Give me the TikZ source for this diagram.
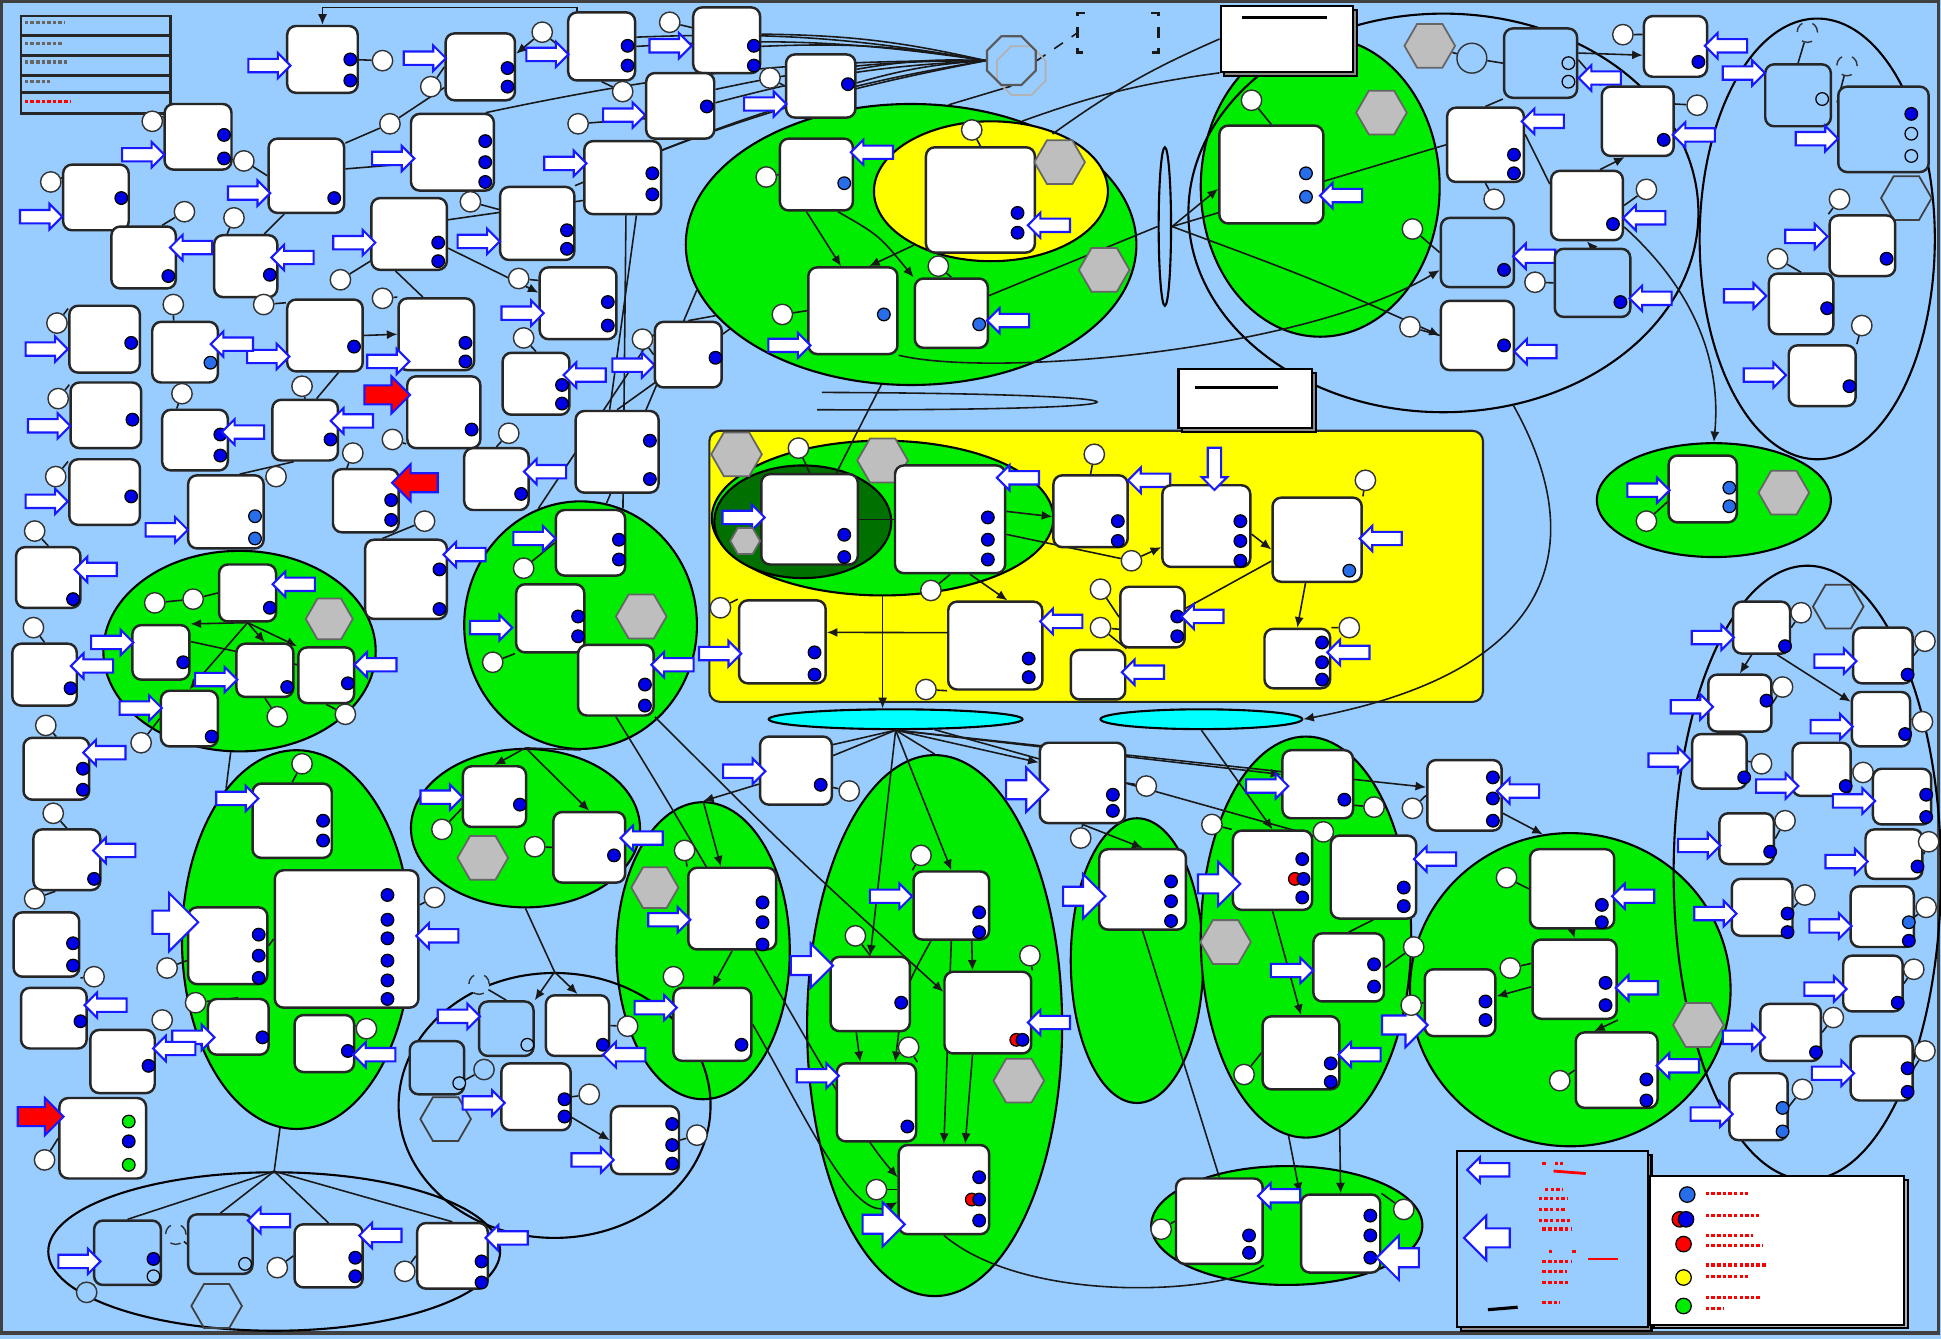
\documentclass[tikz,border=0pt]{standalone}
\usetikzlibrary{arrows.meta,shapes.geometric,shapes.arrows,shadows}
\definecolor{bgblue}{RGB}{153,204,255}
\definecolor{grpgreen}{RGB}{0,236,0}
\definecolor{grpyellow}{RGB}{255,255,0}
\definecolor{darkgrp}{RGB}{0,112,0}
\definecolor{portblue}{RGB}{0,0,230}
\definecolor{lportblue}{RGB}{40,110,235}
\definecolor{arrblue}{RGB}{25,25,255}
\definecolor{hexgray}{RGB}{190,190,190}
\definecolor{cyangrp}{RGB}{0,255,255}
\pgfdeclarelayer{back}
\pgfdeclarelayer{wires}
\pgfsetlayers{back,wires,main}
\begin{document}
\begin{tikzpicture}[
    x=0.3522pt, y=-0.3522pt,
    wh/.style 2 args={minimum width=#1*0.3522pt, minimum height=#2*0.3522pt},
    box/.style={draw=black!85, line width=0.7pt, fill=white, rounded corners=2.5pt, inner sep=0pt},
    bluebox/.style={box, fill=bgblue},
    port/.style={circle, draw=black, line width=0.35pt, fill=portblue, inner sep=0pt, minimum size=3.6pt},
    lport/.style={port, fill=lportblue},
    oport/.style={port, fill=bgblue},
    gport/.style={port, fill=grpgreen},
    rport/.style={port, fill=red},
    yport/.style={port, fill=grpyellow},
    tag/.style={circle, draw=black!80, line width=0.4pt, fill=white, inner sep=0pt, minimum size=5.8pt},
    dtag/.style={tag, dashed, fill=bgblue},
    otag/.style={tag, fill=bgblue},
    rarr/.style={single arrow, draw=arrblue, line width=0.6pt, fill=white, inner xsep=0pt, inner ysep=1.6pt, minimum height=12pt, single arrow head extend=1.7pt},
    larr/.style={rarr, shape border rotate=180},
    darr/.style={rarr, shape border rotate=270, inner xsep=1.6pt, inner ysep=0pt},
    bigr/.style={rarr, inner ysep=2.4pt, single arrow head extend=3.6pt},
    bigl/.style={bigr, shape border rotate=180},
    redr/.style={rarr, fill=red, inner ysep=2.4pt, single arrow head extend=2.6pt, minimum height=13pt},
    redl/.style={redr, shape border rotate=180},
    hexa/.style={regular polygon, regular polygon sides=6, draw=black!60, line width=0.5pt, fill=hexgray, inner sep=0pt, minimum size=14.4pt},
    ohex/.style={hexa, fill=none, draw=black!75},
    grp/.style={ellipse, draw=black, line width=0.6pt, fill=grpgreen, inner sep=0pt},
    ogrp/.style={grp, fill=none},
    ygrp/.style={grp, fill=grpyellow},
    dgrp/.style={grp, fill=darkgrp},
    note/.style={draw=black, line width=0.6pt, fill=white, inner sep=0pt, copy shadow={shadow xshift=1.1pt, shadow yshift=-1.1pt, fill=black!45, draw=black}},
    scrawl/.style={line width=1pt, dash pattern=on 1pt off 0.6pt},
    wire/.style={draw=black!90, line width=0.45pt},
    flow/.style={wire, -{Latex[length=3pt,width=2.6pt]}}
  ]
  \useasboundingbox (0,0) rectangle (1568,1082);
  \begin{pgfonlayer}{back}
    \fill[bgblue] (0,0) rectangle (1568,1082);
    \draw[line width=1pt, black!75] (1,1) rectangle (1566,1077);
    \node[grp, wh={364}{227}] (e3) at (736,197.5) {};
    \node[ygrp, wh={189}{113}] (e3y) at (800.5,154.5) {};
    \node[grp, wh={193}{242}] (e4) at (1066.5,151) {};
    \node[grp, wh={189}{92}] (e7) at (1384.5,404) {};
    \node[grp, wh={220}{162}] (e1) at (193.5,526) {};
    \node[grp, wh={188}{200}] (e2) at (469,505) {};
    \node[grp, wh={185}{306}] (e16) at (239.5,759) {};
    \node[grp, wh={185}{128}] (e15) at (424.5,669) {};
    \node[grp, wh={140}{240}] (e14) at (568,768) {};
    \node[grp, wh={206}{437}] (e13) at (755,828.5) {};
    \node[grp, wh={107}{230}] (e12) at (918.5,776) {};
    \node[grp, wh={170}{324}] (e10) at (1055,757) {};
    \node[grp, wh={219}{96}] (e11) at (1039.5,990) {};
    \node[grp, wh={259}{253}] (e9) at (1268.5,799.5) {};
    \node[box, fill=grpyellow, rounded corners=3pt, line width=0.6pt, wh={625}{219}] (yard) at (885.5,457.5) {};
    \node[grp, wh={276}{125}] (gin) at (713,418.5) {};
    \node[dgrp, wh={143}{91}] (dg) at (648.5,421.5) {};
    \node[grp, fill=cyangrp, wh={205}{16}] (cyan1) at (723.5,581) {};
    \node[grp, fill=cyangrp, wh={163}{16}] (cyan2) at (970.5,581) {};
    \node[ogrp, wh={412}{322}] (e5) at (1166,172) {};
    \node[ogrp, wh={190}{356}] (e6) at (1468,193) {};
    \node[ogrp, wh={216}{496}] (e8) at (1460,705) {};
    \node[ogrp, wh={252}{214}] (e18) at (448,893) {};
    \node[ogrp, wh={365}{128}] (e17) at (221.5,1011) {};
    \node[ogrp, wh={10}{128}] (slim) at (941,183) {};
  \end{pgfonlayer}

  \node[draw=black!85, line width=0.8pt, inner sep=0pt, wh={121}{79}] (legtab) at (77.5,52.5) {};
  \foreach \yy in {29,45,61,75} \draw[line width=0.8pt, black!85] (legtab.west |- 0,\yy) -- (legtab.east |- 0,\yy);
  \foreach \yy/\ww in {18/52,35/50,50/54,66/40} \draw[scrawl, black!60] (20,\yy) -- (\ww,\yy);
  \draw[scrawl, red] (20,82) -- (57,82);

  \node[box, wh={57}{54}] (b1) at (260.5,48) {};
  \node[port] (b1p1) at (283,48) {};
  \node[port] (b1p2) at (283,65) {};
  \node[rarr] (b1a) at (215,53) {};
  \node[tag] (b1t) at (309,49) {};
  \node[box, wh={56}{54}] (b2) at (388,54) {};
  \node[port] (b2p1) at (410,55) {};
  \node[port] (b2p2) at (410,70) {};
  \node[rarr] (b2a) at (340.5,47) {};
  \node[tag] (b2t) at (438,26) {};
  \node[tag] (b2u) at (348,70) {};
  \node[box, wh={54}{55}] (b3) at (486,37.5) {};
  \node[port] (b3p1) at (507,37) {};
  \node[port] (b3p2) at (507,53) {};
  \node[rarr] (b3a) at (439.5,44) {};
  \node[tag] (b3t) at (503,74) {};
  \node[box, wh={54}{53}] (b4) at (160,110.5) {};
  \node[port] (b4p1) at (181,109) {};
  \node[port] (b4p2) at (181,128) {};
  \node[rarr] (b4a) at (113,125) {};
  \node[tag] (b4t) at (123,98) {};
  \node[tag] (b4u) at (197,130) {};
  \node[box, wh={61}{60}] (b5) at (247.5,142) {};
  \node[port] (b5p1) at (270,160) {};
  \node[rarr] (b5a) at (198.5,156) {};
  \node[box, wh={67}{62}] (b6) at (365.5,123) {};
  \node[port] (b6p1) at (392,114) {};
  \node[port] (b6p2) at (392,131) {};
  \node[port] (b6p3) at (392,147) {};
  \node[rarr] (b6a) at (315,128) {};
  \node[tag] (b6t) at (315,100) {};
  \node[box, wh={53}{53}] (b7) at (77.5,159.5) {};
  \node[port] (b7p1) at (98,160) {};
  \node[rarr] (b7a) at (30.5,175) {};
  \node[tag] (b7t) at (41,147) {};
  \node[box, wh={52}{50}] (b8) at (116,208) {};
  \node[port] (b8p1) at (136,223) {};
  \node[larr] (b8a) at (157,200) {};
  \node[tag] (b8t) at (149,171) {};
  \node[box, wh={51}{50}] (b9) at (198.5,215) {};
  \node[port] (b9p1) at (218,222) {};
  \node[larr] (b9a) at (239,208) {};
  \node[tag] (b9t) at (189,176) {};
  \node[box, wh={61}{58}] (b10) at (330.5,189) {};
  \node[port] (b10p1) at (354,196) {};
  \node[port] (b10p2) at (354,211) {};
  \node[rarr] (b10a) at (283.5,196) {};
  \node[tag] (b10t) at (275,226) {};
  \node[box, wh={60}{59}] (b11) at (434,180.5) {};
  \node[port] (b11p1) at (458,186) {};
  \node[port] (b11p2) at (458,201) {};
  \node[rarr] (b11a) at (384,195) {};
  \node[tag] (b11t) at (380,163) {};
  \node[box, wh={62}{59}] (b12) at (503,143.5) {};
  \node[port] (b12p1) at (527,140) {};
  \node[port] (b12p2) at (527,157) {};
  \node[rarr] (b12a) at (454,132) {};
  \node[tag] (c3t) at (467,100) {};
  \node[rarr] (c3a) at (501.5,93) {};
  \node[box, wh={61}{58}] (b13) at (262.5,271) {};
  \node[port] (b13p1) at (286,280) {};
  \node[rarr] (b13a) at (214,288) {};
  \node[tag] (b13t) at (213,246) {};
  \node[box, wh={61}{58}] (b14) at (352.5,270) {};
  \node[port] (b14p1) at (376,277) {};
  \node[port] (b14p2) at (376,292) {};
  \node[rarr] (b14a) at (311,292) {};
  \node[tag] (b14t) at (309,241) {};
  \node[box, wh={57}{54}] (b15) at (84.5,274) {};
  \node[port] (b15p1) at (106,277) {};
  \node[rarr] (b15a) at (35,282) {};
  \node[tag] (b15t) at (46,261) {};
  \node[box, wh={53}{49}] (b16) at (149.5,284.5) {};
  \node[lport] (b16p1) at (170,293) {};
  \node[larr] (b16a) at (190,278) {};
  \node[tag] (b16t) at (140,246) {};
  \node[box, wh={62}{58}] (b17) at (467,245) {};
  \node[port] (b17p1) at (491,244) {};
  \node[port] (b17p2) at (491,263) {};
  \node[rarr] (b17a) at (419.5,253) {};
  \node[tag] (b17t) at (419,225) {};
  \node[box, wh={54}{50}] (b18) at (433,310) {};
  \node[port] (b18p1) at (454,311) {};
  \node[port] (b18p2) at (454,326) {};
  \node[larr] (b18a) at (475,303) {};
  \node[tag] (b18t) at (423,273) {};
  \node[rarr] (c8a) at (509,295) {};
  \node[box, wh={67}{66}] (b19) at (498.5,365) {};
  \node[port] (b19p1) at (525,356) {};
  \node[port] (b19p2) at (525,387) {};
  \node[box, wh={59}{58}] (b20) at (358.5,333) {};
  \node[port] (b20p1) at (381,347) {};
  \node[redr] (b20a) at (309,319) {};
  \node[tag] (b20t) at (317,355) {};
  \node[box, wh={53}{49}] (b21) at (246.5,347.5) {};
  \node[port] (b21p1) at (267,355) {};
  \node[larr] (b21a) at (287,340) {};
  \node[tag] (b21t) at (244,312) {};
  \node[box, wh={53}{49}] (b22) at (157.5,355.5) {};
  \node[port] (b22p1) at (178,351) {};
  \node[port] (b22p2) at (178,368) {};
  \node[larr] (b22a) at (199,349) {};
  \node[tag] (b22t) at (147,318) {};
  \node[box, wh={57}{53}] (b23) at (85.5,335.5) {};
  \node[port] (b23p1) at (107,339) {};
  \node[rarr] (b23a) at (37,344) {};
  \node[tag] (b23t) at (47,322) {};
  \node[box, wh={57}{53}] (b24) at (84.5,397.5) {};
  \node[port] (b24p1) at (106,401) {};
  \node[rarr] (b24a) at (35,405) {};
  \node[tag] (b24t) at (45,385) {};
  \node[box, wh={61}{59}] (b25) at (182.5,413.5) {};
  \node[lport] (b25p1) at (206,417) {};
  \node[lport] (b25p2) at (206,435) {};
  \node[rarr] (b25a) at (132,428) {};
  \node[tag] (b25t) at (223,385) {};
  \node[box, wh={53}{51}] (b26) at (295.5,404.5) {};
  \node[port] (b26p1) at (316,404) {};
  \node[port] (b26p2) at (316,420) {};
  \node[redl] (b26a) at (339,390) {};
  \node[tag] (b26t) at (285,366) {};
  \node[box, wh={52}{50}] (b27) at (401,387) {};
  \node[port] (b27p1) at (421,399) {};
  \node[larr] (b27a) at (443,381) {};
  \node[tag] (b27t) at (411,350) {};
  \node[box, wh={66}{64}] (b28) at (328,468) {};
  \node[port] (b28p1) at (355,460) {};
  \node[port] (b28p2) at (355,492) {};
  \node[larr] (b28a) at (378,448) {};
  \node[tag] (b28t) at (343,421) {};
  \node[box, wh={52}{49}] (b29) at (39,466.5) {};
  \node[port] (b29p1) at (59,484) {};
  \node[larr] (b29a) at (80,460) {};
  \node[tag] (b29t) at (28,429) {};
  \node[box, wh={52}{50}] (b30) at (36,545) {};
  \node[port] (b30p1) at (57,556) {};
  \node[larr] (b30a) at (77,538) {};
  \node[tag] (b30t) at (27,507) {};

  \node[box, wh={46}{46}] (e1a) at (200,479) {};
  \node[port] (e1ap1) at (218,491) {};
  \node[larr] (e1aa) at (240,472) {};
  \node[tag] (e1at) at (125,487) {};
  \node[tag] (e1au) at (156,484) {};
  \node[hexa, minimum size=13.4pt] (e1h) at (266,500) {};
  \node[box, wh={46}{44}] (e1b) at (130,527) {};
  \node[port] (e1bp1) at (148,535) {};
  \node[rarr] (e1ba) at (88,519) {};
  \node[box, wh={46}{43}] (e1c) at (214,541.5) {};
  \node[port] (e1cp1) at (232,555) {};
  \node[rarr] (e1ca) at (172,549) {};
  \node[tag] (e1ct) at (224,579) {};
  \node[box, wh={45}{45}] (e1d) at (263.5,545.5) {};
  \node[port] (e1dp1) at (281,552) {};
  \node[larr] (e1da) at (306,537) {};
  \node[tag] (e1dt) at (279,577) {};
  \node[box, wh={46}{45}] (e1e) at (153,580.5) {};
  \node[port] (e1ep1) at (171,595) {};
  \node[rarr] (e1ea) at (111,572) {};
  \node[tag] (e1et) at (114,600) {};

  \node[box, wh={56}{53}] (e2a) at (477,438.5) {};
  \node[port] (e2ap1) at (500,436) {};
  \node[port] (e2ap2) at (500,452) {};
  \node[rarr] (e2aa) at (429,435) {};
  \node[tag] (e2at) at (423,459) {};
  \node[box, wh={55}{55}] (e2b) at (444.5,499.5) {};
  \node[port] (e2bp1) at (467,498) {};
  \node[port] (e2bp2) at (467,514) {};
  \node[rarr] (e2ba) at (394,507) {};
  \node[tag] (e2bt) at (398,535) {};
  \node[hexa] (e2h) at (518,498) {};
  \node[box, wh={61}{57}] (e2c) at (497.5,549.5) {};
  \node[port] (e2cp1) at (521,553) {};
  \node[port] (e2cp2) at (521,570) {};
  \node[larr] (e2ca) at (546,537) {};

  \node[box, wh={53}{50}] (s1) at (45.5,621) {};
  \node[port] (s1p1) at (67,621) {};
  \node[port] (s1p2) at (67,638) {};
  \node[larr] (s1a) at (87,608) {};
  \node[tag] (s1t) at (37,586) {};
  \node[box, wh={54}{49}] (s2) at (54,694.5) {};
  \node[port] (s2p1) at (76,710) {};
  \node[larr] (s2a) at (95,687) {};
  \node[tag] (s2t) at (43,657) {};
  \node[tag] (s2u) at (28,726) {};
  \node[box, wh={53}{52}] (s3) at (37.5,763) {};
  \node[port] (s3p1) at (59,762) {};
  \node[port] (s3p2) at (59,780) {};
  \node[tag] (s3t) at (76,789) {};
  \node[box, wh={53}{49}] (s4) at (43.5,822.5) {};
  \node[port] (s4p1) at (65,825) {};
  \node[larr] (s4a) at (88,812) {};
  \node[box, wh={52}{51}] (s5) at (99,857.5) {};
  \node[port] (s5p1) at (120,861) {};
  \node[tag] (s5t) at (131,824) {};
  \node[box, wh={70}{65}] (s6) at (83,919.5) {};
  \node[gport] (s6p1) at (104,906) {};
  \node[port] (s6p2) at (104,922) {};
  \node[gport] (s6p3) at (104,941) {};
  \node[redr] (s6a) at (29,902) {};
  \node[tag] (s6t) at (36,937) {};

  \node[box, wh={64}{60}] (r1) at (236,663) {};
  \node[port] (r1p1) at (261,663) {};
  \node[port] (r1p2) at (261,679) {};
  \node[rarr] (r1a) at (189,645) {};
  \node[tag] (r1t) at (244,617) {};
  \node[box, wh={116}{111}] (r2) at (280,758.5) {};
  \node[port] (r2p1) at (313,723) {};
  \node[port] (r2p2) at (313,743) {};
  \node[port] (r2p3) at (313,758) {};
  \node[port] (r2p4) at (313,776) {};
  \node[port] (r2p5) at (313,792) {};
  \node[port] (r2p6) at (313,807) {};
  \node[larr] (r2a) at (356,756) {};
  \node[tag] (r2t) at (351,725) {};
  \node[box, wh={64}{62}] (r3) at (184,764) {};
  \node[port] (r3p1) at (209,755) {};
  \node[port] (r3p2) at (209,772) {};
  \node[port] (r3p3) at (209,790) {};
  \node[bigr, minimum height=13pt, inner ysep=3pt, single arrow head extend=5pt] (r3a) at (137,745) {};
  \node[tag] (r3t) at (135,782) {};
  \node[box, wh={49}{45}] (r4) at (192.5,829.5) {};
  \node[port] (r4p1) at (212,838) {};
  \node[rarr] (r4a) at (153.5,838) {};
  \node[larr] (r4b) at (143.5,847) {};
  \node[tag] (r4t) at (158,810) {};
  \node[box, wh={48}{46}] (r5) at (262,843) {};
  \node[port] (r5p1) at (281,849) {};
  \node[larr] (r5a) at (305,852) {};
  \node[tag] (r5t) at (296,831) {};

  \node[box, wh={51}{49}] (q1) at (399.5,643.5) {};
  \node[port] (q1p1) at (420,650) {};
  \node[rarr] (q1a) at (354,644) {};
  \node[tag] (q1t) at (357,670) {};
  \node[hexa] (q1h) at (390,693) {};
  \node[box, wh={58}{57}] (q2) at (476,684.5) {};
  \node[port] (q2p1) at (496,691) {};
  \node[larr] (q2a) at (521,677) {};
  \node[tag] (q2t) at (432,684) {};

  \node[bluebox, wh={44}{44}] (u1) at (409,831) {};
  \node[oport] (u1p1) at (426,844) {};
  \node[rarr] (u1a) at (368,821) {};
  \node[dtag] (u1t) at (387,795) {};
  \node[box, wh={51}{49}] (u2) at (466.5,828.5) {};
  \node[port] (u2p1) at (487,844) {};
  \node[larr] (u2a) at (507,852) {};
  \node[tag] (u2t) at (507,829) {};
  \node[bluebox, wh={44}{43}] (u3) at (353,862.5) {};
  \node[oport] (u3p1) at (371,875) {};
  \node[otag] (u3t) at (391,864) {};
  \node[ohex] (u3h) at (360,904) {};
  \node[box, wh={56}{54}] (u4) at (433,886) {};
  \node[port] (u4p1) at (456,888) {};
  \node[port] (u4p2) at (456,902) {};
  \node[rarr] (u4a) at (388,891) {};
  \node[tag] (u4t) at (476,884) {};
  \node[box, wh={55}{55}] (u5) at (521,921) {};
  \node[port] (u5p1) at (543,908) {};
  \node[port] (u5p2) at (543,925) {};
  \node[port] (u5p3) at (543,940) {};
  \node[rarr] (u5a) at (476,937) {};
  \node[tag] (u5t) at (563,917) {};

  \node[bluebox, wh={54}{52}] (t1) at (103,1012) {};
  \node[port] (t1p1) at (124,1017) {};
  \node[oport] (t1p2) at (124,1031) {};
  \node[rarr] (t1a) at (61.5,1019) {};
  \node[otag] (t1t) at (70,1044) {};
  \node[bluebox, wh={52}{48}] (t2) at (178,1005) {};
  \node[oport] (t2p1) at (198,1021) {};
  \node[larr] (t2a) at (220,986) {};
  \node[dtag] (t2t) at (142,997) {};
  \node[box, wh={55}{51}] (t3) at (265.5,1014.5) {};
  \node[port] (t3p1) at (287,1016) {};
  \node[port] (t3p2) at (287,1031) {};
  \node[larr] (t3a) at (310,998) {};
  \node[tag] (t3t) at (224,1024) {};
  \node[box, wh={57}{53}] (t4) at (365.5,1014.5) {};
  \node[port] (t4p1) at (389,1019) {};
  \node[port] (t4p2) at (389,1036) {};
  \node[larr] (t4a) at (412,1000) {};
  \node[tag] (t4t) at (327,1027) {};
  \node[ohex] (t4h) at (175,1055) {};

  \node[box, wh={54}{53}] (c1) at (587,32.5) {};
  \node[port] (c1p1) at (609,37) {};
  \node[port] (c1p2) at (609,53) {};
  \node[rarr] (c1a) at (539,37) {};
  \node[tag] (c1t) at (541,18) {};
  \node[box, wh={56}{51}] (c2) at (663,69.5) {};
  \node[port] (c2p1) at (685,68) {};
  \node[rarr] (c2a) at (615.5,84) {};
  \node[tag] (c2t) at (622,63) {};
  \node[box, wh={55}{53}] (c3) at (549.5,85.5) {};
  \node[port] (c3p1) at (571,86) {};
  \node[regular polygon, regular polygon sides=8, draw=black!30, line width=0.5pt, inner sep=0pt, minimum size=15pt] (octs) at (825,57) {};
  \node[regular polygon, regular polygon sides=8, draw=black!65, line width=0.6pt, inner sep=0pt, minimum size=15pt] (oct) at (817,49) {};
  \node[inner sep=0pt, wh={64}{31}] (brk) at (903,26.5) {};
  \node[note, wh={107}{53}] (note1) at (1039.5,31.5) {};
  \node[note, wh={108}{48}] (note2) at (1006,322) {};

  \node[box, wh={59}{58}] (c4) at (659.5,141) {};
  \node[lport] (c4p1) at (682,148) {};
  \node[larr] (c4a) at (707,123) {};
  \node[tag] (c4t) at (619,143) {};
  \node[box, wh={88}{85}] (c5) at (792,161.5) {};
  \node[port] (c5p1) at (822,172) {};
  \node[port] (c5p2) at (822,188) {};
  \node[larr] (c5a) at (850,182) {};
  \node[tag] (c5t) at (785,105) {};
  \node[hexa] (c5h) at (856,131) {};
  \node[box, wh={72}{70}] (c6) at (689,251) {};
  \node[lport] (c6p1) at (714,254) {};
  \node[rarr] (c6a) at (635,279) {};
  \node[tag] (c6t) at (632,254) {};
  \node[box, wh={59}{56}] (c7) at (768.5,253) {};
  \node[lport] (c7p1) at (791,262) {};
  \node[larr] (c7a) at (817,259) {};
  \node[tag] (c7t) at (758,215) {};
  \node[hexa] (c7h) at (892,218) {};
  \node[box, wh={54}{53}] (c8) at (556,286.5) {};
  \node[port] (c8p1) at (578,289) {};
  \node[tag] (c8t) at (519,274) {};

  \node[box, wh={78}{73}] (d1) at (654,419.5) {};
  \node[port] (d1p1) at (682,432) {};
  \node[port] (d1p2) at (682,450) {};
  \node[rarr] (d1a) at (598,418) {};
  \node[hexa, minimum size=8.5pt] (d1h) at (602,437) {};
  \node[hexa] (d1g) at (595,367) {};
  \node[hexa] (d2h) at (713,372) {};
  \node[tag] (d1t) at (645,362) {};
  \node[box, wh={89}{87}] (d2) at (767.5,419.5) {};
  \node[port] (d2p1) at (798,418) {};
  \node[port] (d2p2) at (798,436) {};
  \node[port] (d2p3) at (798,452) {};
  \node[larr] (d2a) at (825,386) {};
  \node[tag] (d2t) at (752,477) {};
  \node[box, wh={60}{58}] (d3) at (881,413) {};
  \node[port] (d3p1) at (903,421) {};
  \node[port] (d3p2) at (903,437) {};
  \node[larr] (d3a) at (931,388) {};
  \node[tag] (d3t) at (884,367) {};
  \node[box, wh={71}{66}] (d4) at (974.5,425) {};
  \node[port] (d4p1) at (1002,421) {};
  \node[port] (d4p2) at (1002,437) {};
  \node[port] (d4p3) at (1002,453) {};
  \node[darr] (d4a) at (981,376) {};
  \node[tag] (d4t) at (914,453) {};
  \node[box, wh={72}{68}] (d5) at (1064,436) {};
  \node[lport] (d5p1) at (1090,461) {};
  \node[larr] (d5a) at (1118,435) {};
  \node[tag] (d5t) at (1103,388) {};
  \node[box, wh={70}{67}] (d6) at (632,518.5) {};
  \node[port] (d6p1) at (658,527) {};
  \node[port] (d6p2) at (658,545) {};
  \node[rarr] (d6a) at (579,528) {};
  \node[tag] (d6t) at (582,491) {};
  \node[box, wh={76}{71}] (d7) at (804,521.5) {};
  \node[port] (d7p1) at (831,532) {};
  \node[port] (d7p2) at (831,547) {};
  \node[larr] (d7a) at (860,502) {};
  \node[tag] (d7t) at (748,557) {};
  \node[box, wh={52}{49}] (d8) at (931,498.5) {};
  \node[port] (d8p1) at (951,498) {};
  \node[port] (d8p2) at (951,514) {};
  \node[larr] (d8a) at (974,498) {};
  \node[tag] (d8t) at (889,476) {};
  \node[tag] (d8u) at (889,507) {};
  \node[box, wh={44}{40}] (d9) at (887,545) {};
  \node[larr] (d9a) at (926,543) {};
  \node[box, wh={53}{48}] (d10) at (1048,532) {};
  \node[port] (d10p1) at (1068,519) {};
  \node[port] (d10p2) at (1068,535) {};
  \node[port] (d10p3) at (1068,549) {};
  \node[larr] (d10a) at (1092,527) {};
  \node[tag] (d10t) at (1090,507) {};

  \node[box, wh={84}{79}] (f1) at (1027,141) {};
  \node[lport] (f1p1) at (1055,140) {};
  \node[lport] (f1p2) at (1055,159) {};
  \node[larr] (f1a) at (1086,158) {};
  \node[tag] (f1t) at (1011,81) {};
  \node[hexa] (f1h) at (1116,91) {};
  \node[hexa] (hexb) at (1155,37) {};
  \node[otag, minimum size=8.5pt] (bigc) at (1189,47) {};
  \node[bluebox, wh={59}{56}] (f2) at (1244.5,51) {};
  \node[oport] (f2p1) at (1267,51) {};
  \node[oport] (f2p2) at (1267,66) {};
  \node[larr] (f2a) at (1295,63) {};
  \node[box, wh={51}{49}] (f3) at (1353.5,37.5) {};
  \node[port] (f3p1) at (1372,50) {};
  \node[larr] (f3a) at (1397,37) {};
  \node[tag] (f3t) at (1311,28) {};
  \node[box, wh={62}{60}] (f4) at (1200,117) {};
  \node[port] (f4p1) at (1223,125) {};
  \node[port] (f4p2) at (1223,140) {};
  \node[larr] (f4a) at (1249,98) {};
  \node[tag] (f4t) at (1207,161) {};
  \node[box, wh={58}{56}] (f5) at (1323,98) {};
  \node[port] (f5p1) at (1344,113) {};
  \node[larr] (f5a) at (1371,109) {};
  \node[tag] (f5t) at (1371,85) {};
  \node[box, wh={58}{56}] (f6) at (1282,166) {};
  \node[port] (f6p1) at (1303,181) {};
  \node[larr] (f6a) at (1331,176) {};
  \node[tag] (f6t) at (1330,153) {};
  \node[bluebox, wh={59}{56}] (f7) at (1193.5,204) {};
  \node[port] (f7p1) at (1215,218) {};
  \node[larr] (f7a) at (1242,207) {};
  \node[tag] (f7t) at (1141,185) {};
  \node[bluebox, wh={61}{55}] (f8) at (1286.5,228.5) {};
  \node[port] (f8p1) at (1309,244) {};
  \node[larr] (f8a) at (1336,241) {};
  \node[tag] (f8t) at (1240,228) {};
  \node[box, wh={59}{56}] (f9) at (1193.5,271) {};
  \node[port] (f9p1) at (1215,279) {};
  \node[larr] (f9a) at (1243,284) {};
  \node[tag] (f9t) at (1139,264) {};

  \node[bluebox, wh={53}{50}] (g1) at (1452.5,77) {};
  \node[oport] (g1p1) at (1472,80) {};
  \node[rarr] (g1a) at (1406,59) {};
  \node[dtag] (g1t) at (1460,26) {};
  \node[dtag] (g1u) at (1492,53) {};
  \node[bluebox, wh={73}{69}] (g2) at (1521.5,104.5) {};
  \node[port] (g2p1) at (1544,92) {};
  \node[oport] (g2p2) at (1544,108) {};
  \node[oport] (g2p3) at (1544,126) {};
  \node[rarr] (g2a) at (1465,112) {};
  \node[ohex] (g2h) at (1540,160) {};
  \node[box, wh={53}{49}] (g3) at (1504.5,198.5) {};
  \node[port] (g3p1) at (1524,209) {};
  \node[rarr] (g3a) at (1456.5,191) {};
  \node[tag] (g3t) at (1486,161) {};
  \node[box, wh={52}{49}] (g4) at (1455,245.5) {};
  \node[port] (g4p1) at (1476,249) {};
  \node[rarr] (g4a) at (1407,239) {};
  \node[tag] (g4t) at (1436,209) {};
  \node[box, wh={54}{49}] (g5) at (1472,303.5) {};
  \node[port] (g5p1) at (1494,312) {};
  \node[rarr] (g5a) at (1423,303) {};
  \node[tag] (g5t) at (1504,263) {};
  \node[box, wh={55}{54}] (e7b) at (1375.5,395) {};
  \node[lport] (e7bp1) at (1397,394) {};
  \node[lport] (e7bp2) at (1397,409) {};
  \node[rarr] (e7ba) at (1329,396) {};
  \node[hexa] (e7h) at (1441,398) {};
  \node[tag] (e7bt) at (1330,421) {};

  \node[box, wh={46}{42}] (v1) at (1423,507) {};
  \node[port] (v1p1) at (1442,522) {};
  \node[rarr] (v1a) at (1381,515) {};
  \node[tag] (v1t) at (1455,495) {};
  \node[ohex] (v1h) at (1485,490) {};
  \node[box, wh={48}{45}] (v2) at (1521,529.5) {};
  \node[port] (v2p1) at (1541,545) {};
  \node[rarr] (v2a) at (1480,534) {};
  \node[tag] (v2t) at (1555,518) {};
  \node[box, wh={51}{46}] (v3) at (1405.5,568) {};
  \node[port] (v3p1) at (1427,566) {};
  \node[rarr] (v3a) at (1364,571) {};
  \node[tag] (v3t) at (1440,555) {};
  \node[box, wh={47}{44}] (v4) at (1519.5,581) {};
  \node[port] (v4p1) at (1539,593) {};
  \node[rarr] (v4a) at (1477,587) {};
  \node[tag] (v4t) at (1553,583) {};
  \node[box, wh={44}{44}] (v5) at (1389,615) {};
  \node[port] (v5p1) at (1409,628) {};
  \node[rarr] (v5a) at (1346,614) {};
  \node[tag] (v5t) at (1423,617) {};
  \node[box, wh={47}{43}] (v6) at (1471.5,621.5) {};
  \node[port] (v6p1) at (1491,635) {};
  \node[rarr] (v6a) at (1433,635) {};
  \node[tag] (v6t) at (1505,624) {};
  \node[box, wh={47}{45}] (v7) at (1536.5,643.5) {};
  \node[port] (v7p1) at (1556,642) {};
  \node[port] (v7p2) at (1556,660) {};
  \node[rarr] (v7a) at (1495,647) {};
  \node[box, wh={44}{41}] (v8) at (1411,677.5) {};
  \node[port] (v8p1) at (1430,688) {};
  \node[rarr] (v8a) at (1370,683) {};
  \node[tag] (v8t) at (1442,663) {};
  \node[box, wh={46}{40}] (v9) at (1530,690) {};
  \node[port] (v9p1) at (1549,700) {};
  \node[rarr] (v9a) at (1489,696) {};
  \node[tag] (v9t) at (1558,680) {};
  \node[box, wh={49}{46}] (v10) at (1423.5,733) {};
  \node[port] (v10p1) at (1444,738) {};
  \node[port] (v10p2) at (1444,753) {};
  \node[rarr] (v10a) at (1383,738) {};
  \node[tag] (v10t) at (1458,723) {};
  \node[box, wh={51}{49}] (v11) at (1520.5,740.5) {};
  \node[lport] (v11p1) at (1542,745) {};
  \node[port] (v11p2) at (1542,760) {};
  \node[rarr] (v11a) at (1476,748) {};
  \node[tag] (v11t) at (1556,733) {};
  \node[box, wh={48}{45}] (v12) at (1513,794.5) {};
  \node[port] (v12p1) at (1533,810) {};
  \node[rarr] (v12a) at (1472,799) {};
  \node[tag] (v12t) at (1546,783) {};
  \node[box, wh={49}{46}] (v13) at (1446.5,834) {};
  \node[port] (v13p1) at (1467,850) {};
  \node[rarr] (v13a) at (1406,838) {};
  \node[tag] (v13t) at (1481,822) {};
  \node[box, wh={50}{52}] (v14) at (1520,863) {};
  \node[port] (v14p1) at (1541,863) {};
  \node[port] (v14p2) at (1541,882) {};
  \node[rarr] (v14a) at (1478,867) {};
  \node[tag] (v14t) at (1555,849) {};
  \node[box, wh={47}{54}] (v15) at (1420.5,894) {};
  \node[lport] (v15p1) at (1440,895) {};
  \node[lport] (v15p2) at (1440,914) {};
  \node[rarr] (v15a) at (1380,900) {};
  \node[tag] (v15t) at (1456,880) {};

  \node[box, wh={68}{64}] (h1) at (1270,718) {};
  \node[port] (h1p1) at (1294,731) {};
  \node[port] (h1p2) at (1294,745) {};
  \node[larr] (h1a) at (1322,724) {};
  \node[tag] (h1t) at (1217,709) {};
  \node[box, wh={68}{64}] (h2) at (1272,791) {};
  \node[port] (h2p1) at (1297,794) {};
  \node[port] (h2p2) at (1297,812) {};
  \node[larr] (h2a) at (1325,798) {};
  \node[tag] (h2t) at (1220,782) {};
  \node[box, wh={57}{54}] (h3) at (1179.5,810) {};
  \node[port] (h3p1) at (1200,809) {};
  \node[port] (h3p2) at (1200,824) {};
  \node[bigr, minimum height=13pt] (h3a) at (1131,828) {};
  \node[tag] (h3t) at (1140,812) {};
  \node[box, wh={66}{61}] (h4) at (1306,864.5) {};
  \node[port] (h4p1) at (1330,872) {};
  \node[port] (h4p2) at (1330,889) {};
  \node[larr] (h4a) at (1358,861) {};
  \node[tag] (h4t) at (1260,873) {};
  \node[hexa] (h4h) at (1372,828) {};
  \node[box, wh={60}{57}] (i1) at (1183,642.5) {};
  \node[port] (i1p1) at (1206,628) {};
  \node[port] (i1p2) at (1206,645) {};
  \node[port] (i1p3) at (1206,663) {};
  \node[larr] (i1a) at (1229,639) {};
  \node[tag] (i1t) at (1141,653) {};

  \node[box, wh={58}{55}] (o1) at (643,622.5) {};
  \node[port] (o1p1) at (663,634) {};
  \node[rarr] (o1a) at (598.5,623) {};
  \node[tag] (o1t) at (686,639) {};
  \node[box, wh={71}{66}] (p1) at (591.5,734) {};
  \node[port] (p1p1) at (616,729) {};
  \node[port] (p1p2) at (616,745) {};
  \node[port] (p1p3) at (616,763) {};
  \node[rarr] (p1a) at (538,743) {};
  \node[hexa, minimum size=13.4pt] (p1h) at (529,717) {};
  \node[tag] (p1t) at (553,687) {};
  \node[box, wh={63}{59}] (p2) at (575.5,827.5) {};
  \node[port] (p2p1) at (599,844) {};
  \node[rarr] (p2a) at (527,814) {};
  \node[tag] (p2t) at (544,789) {};

  \node[box, wh={61}{55}] (n1) at (768.5,731.5) {};
  \node[port] (n1p1) at (791,737) {};
  \node[port] (n1p2) at (791,753) {};
  \node[rarr] (n1a) at (717,724) {};
  \node[tag] (n1t) at (744,691) {};
  \node[box, wh={64}{60}] (n2) at (703,803) {};
  \node[port] (n2p1) at (728,810) {};
  \node[bigr] (n2a) at (652,780) {};
  \node[tag] (n2t) at (691,756) {};
  \node[box, wh={70}{66}] (n3) at (798,818) {};
  \node[rport] (n3p1) at (821,840) {};
  \node[port] (n3p2) at (826,840) {};
  \node[larr] (n3a) at (850,826) {};
  \node[tag] (n3t) at (832,772) {};
  \node[box, wh={64}{63}] (n4) at (708,890.5) {};
  \node[port] (n4p1) at (733,910) {};
  \node[rarr] (n4a) at (658,869) {};
  \node[tag] (n4t) at (734,846) {};
  \node[box, wh={73}{72}] (n5) at (762.5,961) {};
  \node[port] (n5p1) at (791,951) {};
  \node[rport] (n5p2) at (785,969) {};
  \node[port] (n5p3) at (791,969) {};
  \node[port] (n5p4) at (791,986) {};
  \node[bigr] (n5a) at (710,989) {};
  \node[tag] (n5t) at (708,961) {};
  \node[hexa] (n3h) at (823,873) {};

  \node[box, wh={69}{65}] (m1) at (874.5,632.5) {};
  \node[port] (m1p1) at (899,642) {};
  \node[port] (m1p2) at (899,655) {};
  \node[bigr] (m1a) at (826,638) {};
  \node[tag] (m1t) at (926,635) {};
  \node[tag] (m1u) at (873,677) {};
  \node[box, wh={70}{65}] (l1) at (923,718.5) {};
  \node[port] (l1p1) at (946,712) {};
  \node[port] (l1p2) at (946,728) {};
  \node[port] (l1p3) at (946,744) {};
  \node[bigr] (l1a) at (872,724) {};

  \node[box, wh={57}{55}] (j1) at (1064.5,633.5) {};
  \node[port] (j1p1) at (1086,646) {};
  \node[rarr] (j1a) at (1021,635) {};
  \node[tag] (j1t) at (1110,652) {};
  \node[box, wh={64}{64}] (j2) at (1028,703) {};
  \node[port] (j2p1) at (1052,694) {};
  \node[rport] (j2p2) at (1046,710) {};
  \node[port] (j2p3) at (1053,710) {};
  \node[port] (j2p4) at (1052,725) {};
  \node[bigr] (j2a) at (981,714) {};
  \node[tag] (j2t) at (979,666) {};
  \node[box, wh={69}{67}] (j3) at (1109.5,708.5) {};
  \node[port] (j3p1) at (1134,717) {};
  \node[port] (j3p2) at (1134,732) {};
  \node[larr] (j3a) at (1162,694) {};
  \node[tag] (j3t) at (1069,672) {};
  \node[box, wh={57}{55}] (j4) at (1089.5,781.5) {};
  \node[port] (j4p1) at (1110,779) {};
  \node[port] (j4p2) at (1110,797) {};
  \node[rarr] (j4a) at (1041,784) {};
  \node[tag] (j4t) at (1142,765) {};
  \node[box, wh={62}{59}] (j5) at (1051,850.5) {};
  \node[port] (j5p1) at (1075,859) {};
  \node[port] (j5p2) at (1075,874) {};
  \node[larr] (j5a) at (1101,852) {};
  \node[tag] (j5t) at (1005,868) {};
  \node[hexa] (j2h) at (990,761) {};
  \node[box, wh={70}{69}] (k1) at (985,986.5) {};
  \node[port] (k1p1) at (1009,998) {};
  \node[port] (k1p2) at (1009,1012) {};
  \node[larr] (k1a) at (1036,966) {};
  \node[tag] (k1t) at (938,993) {};
  \node[box, wh={64}{63}] (k2) at (1083,996.5) {};
  \node[port] (k2p1) at (1107,982) {};
  \node[port] (k2p2) at (1107,998) {};
  \node[port] (k2p3) at (1107,1016) {};
  \node[bigl] (k2a) at (1133,1016) {};
  \node[tag] (k2t) at (1134,977) {};

  \node[note, fill=bgblue, wh={154}{142}] (lg1) at (1254,1001) {};
  \node[larr] (lg1a) at (1205,945) {};
  \node[bigl, minimum height=13pt] (lg1b) at (1205,1000) {};
  \node[note, copy shadow={shadow xshift=1.1pt, shadow yshift=-1.1pt, fill=black!30, draw=black}, wh={205}{120}] (lg2) at (1435.5,1010) {};
  \node[lport, minimum size=4.4pt] (lg2c1) at (1363,965) {};
  \node[rport, minimum size=4.4pt] (lg2c2) at (1357,985) {};
  \node[port, minimum size=4.4pt] (lg2c3) at (1362,985) {};
  \node[rport, minimum size=4.4pt] (lg2c4) at (1360,1005) {};
  \node[yport, minimum size=4.4pt] (lg2c5) at (1360,1032) {};
  \node[gport, minimum size=4.4pt] (lg2c6) at (1360,1055) {};
  \foreach \yy/\ww in {964/1412,982/1421,998/1416,1006/1424,1022/1427,1031/1412,1048/1422,1057/1392} \draw[scrawl, red] (1378,\yy) -- (\ww,\yy);
  \foreach \yy/\xa/\xb in {940/1246/1250,940/1256/1263,961/1248/1262,968/1243/1266,977/1243/1265,986/1243/1269,993/1246/1269,1011/1251/1255,1011/1270/1274,1019/1246/1269,1027/1246/1266,1036/1246/1268,1052/1246/1260} \draw[scrawl, red] (\xa,\yy) -- (\xb,\yy);
  \draw[red, line width=0.8pt] (1255,946) -- (1281,948);
  \draw[red, line width=0.8pt] (1283,1017) -- (1307,1017);
  \draw[black, line width=0.9pt] (1202,1058) -- (1226,1056);
  \draw[line width=0.8pt] (1003,14) -- (1072,14);
  \draw[line width=0.8pt] (965,313) -- (1032,313);

  \coordinate (topbend) at (466,6);
  \begin{pgfonlayer}{wires}
    \draw[flow] (b3.north -| topbend) -- (topbend) -| (b1.north);
    \draw[wire] (b1p1) -- (b1t);
    \draw[wire] (b3.190) -- (b2t);
    \draw[flow] (b2t) -- (b2.20);
    \draw[wire] (b2u) -- (b2.west);
    \draw[wire] (b3t) -- (b3.south);
    \draw[wire] (b4t) -- (b4.150);
    \draw[wire] (b4p2) -- (b4u) -- (b5.west);
    \draw[wire] (b5.40) -- (b6t) -- (b2.210);
    \draw[wire] (b5.10) -- (b6.195);
    \draw[wire] (b7t) -- (b7.150);
    \draw[wire] (b8t) -- (b8.60);
    \draw[wire] (b9t) -- (b9.120);
    \draw[wire] (b9.60) -- (b5.240);
    \draw[wire] (b10t) -- (b10.215);
    \draw[flow] (b10.340) -- (b17.165);
    \draw[wire] (b10.20) -- (b12.210);
    \draw[wire] (b11t) -- (b11.160);
    \draw[wire] (c3t) -- (c3.200);
    \draw[flow] (b13.east) -- (b14.west);
    \draw[wire] (b13t) -- (b13.140);
    \draw[wire] (b14t) -- (b14.north west);
    \draw[wire] (b14.110) -- (b10.250);
    \draw[wire] (b21.70) -- (b13.290);
    \draw[wire] (b15t) -- (b15.140);
    \draw[wire] (b16t) -- (b16.110);
    \draw[wire] (b17t) -- (b17.150);
    \draw[wire] (b18t) -- (b18.north);
    \draw[wire] (b12.290) -- (b19.100);
    \draw[wire] (b12.275) -- (e2.70);
    \draw[wire] (c8.150) -- (e2.110);
    \draw[wire] (c8t) -- (c8.west);
    \draw[wire] (b20t) -- (b20.220);
    \draw[wire] (b21t) -- (b21.north);
    \draw[wire] (b22t) -- (b22.120);
    \draw[wire] (b23t) -- (b23.140);
    \draw[wire] (b24t) -- (b24.140);
    \draw[wire] (b25t) -- (b25.40);
    \draw[wire] (b25.70) -- (b21.250);
    \draw[wire] (b26t) -- (b26.120);
    \draw[wire] (b27t) -- (b27.north);
    \draw[wire] (b28t) -- (b28.120);
    \draw[wire] (b29t) -- (b29.north);
    \draw[wire] (b30t) -- (b30.north);
    \draw[wire] (e1at) -- (e1au) -- (e1a.west);
    \draw[flow] (e1a.south) -- (e1b.north east);
    \draw[flow] (e1a.south) -- (e1c.north);
    \draw[flow] (e1a.south) -- (e1d.north west);
    \draw[flow] (e1a.south) -- (e1e.north);
    \draw[wire] (e1b.20) -- (e1d.160);
    \draw[wire] (e1et) -- (e1e.west);
    \draw[wire] (e1ct) -- (e1c.south);
    \draw[wire] (e1dt) -- (e1d.south);
    \draw[wire] (e2at) -- (e2a.west);
    \draw[wire] (e2bt) -- (e2b.south west);
    \draw[wire] (e1.265) -- (e16.115);
    \draw[wire] (r1t) -- (r1.north);
    \draw[wire] (r2t) -- (r2.25);
    \draw[wire] (r3t) -- (r3.200);
    \draw[wire] (r3.east) -- (r2.west);
    \draw[wire] (r4t) -- (r4.north);
    \draw[wire] (r5t) -- (r5.30);
    \draw[wire] (e16.265) -- (e17.north);
    \foreach \n in {t1,t2,t3,t4} \draw[wire] (e17.north) -- (\n.north);
    \draw[wire] (t1t) -- (t1.south west);
    \draw[wire] (t2t) -- (t2.west);
    \draw[wire] (t3t) -- (t3.west);
    \draw[wire] (t4t) -- (t4.west);
    \draw[wire] (e2.south) -- (e15.north);
    \draw[flow] (e15.north) -- (q1.north);
    \draw[flow] (e15.north) -- (q2.north);
    \draw[wire] (q1t) -- (q1.200);
    \draw[wire] (q2t) -- (q2.west);
    \draw[wire] (e15.south) -- (e18.north);
    \draw[flow] (e18.north) -- (u1.north east);
    \draw[flow] (e18.north) -- (u2.north);
    \draw[wire] (u1t) -- (u1.north);
    \draw[wire] (u2t) -- (u2.east);
    \draw[wire] (u3p1) -- (u3t);
    \draw[wire] (u4t) -- (u4.east);
    \draw[flow] (u4.330) -- (u5.west);
    \draw[wire] (u5t) -- (u5.east);
    \draw[wire] (s1t) -- (s1.north);
    \draw[wire] (s2t) -- (s2.north);
    \draw[wire] (s2u) -- (s2.250);
    \draw[wire] (s3t) -- (s3.south east);
    \draw[wire] (s5t) -- (s5.north east);
    \draw[wire] (s6t) -- (s6.west);

    \draw[wire] (c1t) -- (c1.160);
    \draw[wire] (c2t) -- (c2.west);
    \foreach \tg in {c1.10,c1.350,c2.25,c2.5,c3.25,c3.5,b3.15,b3.0,b12.35,b11.45,b6.50} \draw[wire] (oct.west) to[bend right=6] (\tg);
    \draw[wire] (oct.south) -- (e3.75);
    \draw[wire, dashed] (oct.east) -- (brk.west);
    \draw[wire, dashed, line width=0.8pt] ([xshift=2pt]brk.north west) -- (brk.north west) -- (brk.south west) -- ([xshift=2pt]brk.south west);
    \draw[wire, dashed, line width=0.8pt] ([xshift=-2pt]brk.north east) -- (brk.north east) -- (brk.south east) -- ([xshift=-2pt]brk.south east);
    \draw[wire] (e3.48) to[bend left=6] (note1.south west);
    \draw[wire] (e3.38) to[bend left=6] (note1.west);
    \draw[wire] (c4t) -- (c4.west);
    \draw[wire] (c5t) -- (c5.north);
    \draw[wire] (c6t) -- (c6.west);
    \draw[wire] (c7t) -- (c7.north);
    \draw[flow] (c4.255) -- (c6.105);
    \draw[flow] (c4.300) .. controls (710,190) .. (c7.north west);
    \draw[flow] (e3y.215) -- (c6.70);
    \draw[wire] (c7.25) -- (slim.west);
    \draw[flow] (slim.east) -- (f1.195);
    \draw[wire] (slim.east) -- (f4.west);
    \draw[flow] (slim.east) .. controls (1060,225) .. (f9.west);
    \draw[flow] (c6.south east) .. controls (800,305) and (1050,285) .. (f7.205);
    \draw[wire] (e3.200) -- (c8.north);
    \draw[wire] (e3.192) -- (e2.78);
    \draw[wire] (e3.205) -- (b19.north);
    \draw[wire] (664,317) .. controls (960,318) and (962,332) .. (660,331);

    \draw[wire] (f1t) -- (f1.north);
    \draw[wire] (hexb) -- (bigc) -- (f2.west);
    \draw[flow] (f2.15) -- (f3.195);
    \draw[wire] (f3t) -- (f3.160);
    \draw[wire] (f2.5) -- (f5.north west);
    \draw[wire] (f2.south west) -- (f4.north);
    \draw[wire] (f4t) -- (f4.south);
    \draw[wire] (f5t) -- (f5.25);
    \draw[flow] (f6.70) -- (f5.250);
    \draw[flow] (f8.north) -- (f6.south);
    \draw[wire] (f4.15) -- (f6.150);
    \draw[flow] (f6.330) .. controls (1375,240) and (1390,300) .. (e7.north);
    \draw[wire] (f6t) -- (f6.east);
    \draw[wire] (f7t) -- (f7.west);
    \draw[wire] (f8t) -- (f8.west);
    \draw[wire] (f9t) -- (f9.west);
    \draw[flow] (e5.290) .. controls (1280,430) and (1270,540) .. (cyan2.east);
    \draw[wire] (g1t) -- (g1.north);
    \draw[wire] (g1u) -- (g2.150);
    \draw[wire] (g3t) -- (g3.north west);
    \draw[wire] (g4t) -- (g4.north);
    \draw[wire] (g5t) -- (g5.north east);
    \draw[wire] (e7bt) -- (e7b.200);

    \draw[wire] (d1.60) -- (e3.258);
    \draw[wire] (d1t) -- (d1.north);
    \draw[wire] (d1.east) -- (d2.west);
    \draw[flow] (d2.8) -- (d3.188);
    \draw[wire] (d2.345) -- (d4t);
    \draw[flow] (d4t) -- (d4.205);
    \draw[wire] (d3t) -- (d3.north);
    \draw[flow] (d4.350) -- (d5.192);
    \draw[wire] (d5t) -- (d5.north east);
    \draw[flow] (d2.290) -- (d7.75);
    \draw[flow] (d7.165) -- (d6.12);
    \draw[wire] (d8.15) -- (d5.205);
    \draw[flow] (d5.255) -- (d10.north);
    \draw[wire] (d8t) -- (d8.west);
    \draw[wire] (d8u) -- (d8.200);
    \draw[wire] (d9.north east) -- (d8u);
    \draw[wire] (d6t) -- (d6.north west);
    \draw[wire] (d7t) -- (d7.south west);
    \draw[wire] (d10t) -- (d10.north east);
    \draw[wire] (d2t) -- (d2.south);
    \draw[flow] (gin.south) -- (gin.south |- cyan1.north);

    \draw[wire] (cyan1.south) -- (o1.22);
    \draw[wire] (cyan1.south) -- (o1.35);
    \draw[flow] (cyan1.south) -- (m1.155);
    \draw[flow] (cyan1.south) -- (n1.north);
    \draw[flow] (cyan1.south) -- (n2.north);
    \draw[wire] (cyan1.south) -- (e13.north);
    \draw[flow] (cyan1.south) -- (j1.165);
    \draw[flow] (cyan1.south) -- (i1.168);
    \draw[flow] (cyan1.345) -- (j3.140);
    \draw[flow] (cyan2.south) -- (j2.north);
    \draw[flow] (o1.200) -- (e14.north);
    \draw[wire] (o1t) -- (o1p1);
    \draw[flow] (e14.north) -- (p1.105);
    \draw[flow] (p1.south) -- (p2.north);
    \draw[wire] (p1t) -- (p1.north west);
    \draw[wire] (p2t) -- (p2.north west);
    \draw[flow] (n1.south) -- (n5.north);
    \draw[flow] (n1.300) -- (n3.110);
    \draw[flow] (n1.240) .. controls (730,800) .. (n4.65);
    \draw[flow] (n2.250) -- (n4.112);
    \draw[flow] (n3.250) -- (n5.65);
    \draw[wire] (n1t) -- (n1.north west);
    \draw[wire] (n2t) -- (n2.north);
    \draw[wire] (n3t) -- (n3.north east);
    \draw[wire] (n4t) -- (n4.north east);
    \draw[wire] (n5t) -- (n5.west);
    \draw[flow] (e2c.south east) .. controls (640,690) .. (n3.155);
    \draw[flow] (e2c.south) .. controls (610,760) and (680,900) .. (n5.165);
    \draw[flow] (p2.east) .. controls (650,900) and (690,990) .. (n5.195);
    \draw[wire] (n5.south) .. controls (830,1055) and (990,1045) .. (k1.south east);
    \draw[flow] (m1.south) -- (l1.north);
    \draw[wire] (m1t) -- (m1.east);
    \draw[wire] (m1u) -- (m1.south);
    \draw[wire] (l1.south) -- (k1.north);
    \draw[flow] (j2.south) -- (j5.north);
    \draw[wire] (j1t) -- (j1.330);
    \draw[wire] (j2t) -- (j2.north west);
    \draw[wire] (j3t) -- (j3.north west);
    \draw[wire] (j4t) -- (j4.east);
    \draw[wire] (j5t) -- (j5.west);
    \draw[wire] (j3.south) -- (j4.north);
    \draw[flow] (e10.265) -- (k2.north west);
    \draw[flow] (e10.280) -- (k2.north);
    \draw[wire] (k1t) -- (k1.west);
    \draw[wire] (k2t) -- (k2.north east);
    \draw[flow] (i1.335) -- (e9.100);
    \draw[wire] (i1t) -- (i1.west);
    \draw[flow] (h1.south) -- (h2.north);
    \draw[flow] (h2.south east) -- (h4.120);
    \draw[flow] (h2.190) -- (h3.10);
    \draw[wire] (h1t) -- (h1.west);
    \draw[wire] (h2t) -- (h2.160);
    \draw[wire] (h3t) -- (h3.west);
    \draw[wire] (h4t) -- (h4.west);
    \draw[flow] (v1.250) -- (v3.north);
    \draw[flow] (v1.300) -- (v4.150);
    \foreach \n in {v1,v2,v3,v4,v5,v6,v8,v9,v10,v11,v12,v13,v14,v15} \draw[wire] (\n t) -- (\n.east);
  \end{pgfonlayer}
\end{tikzpicture}
\end{document}
